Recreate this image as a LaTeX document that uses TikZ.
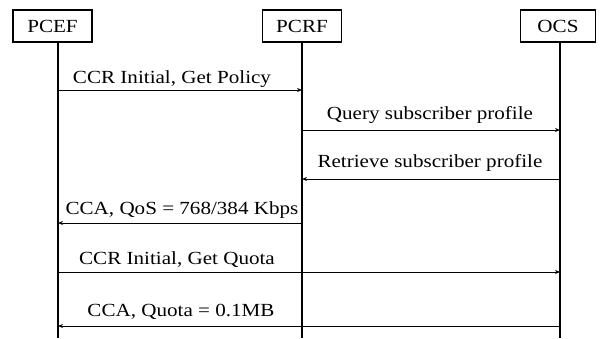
\documentclass[tikz,border=0pt]{standalone}
\usepackage{fontspec}
\setmainfont{Liberation Serif}[FakeStretch=1.14]
\usetikzlibrary{arrows.meta}
\begin{document}
\begin{tikzpicture}[x=1pt,y=-1pt,
  entity/.style={draw,line width=1.3pt,minimum width=79pt,minimum height=32pt,inner sep=0pt,font=\fontsize{18.5}{20}\selectfont},
  lifeline/.style={line width=2pt},
  msg/.style={line width=0.9pt,-{Stealth[length=5pt,width=4pt]}},
  msglabel/.style={inner sep=0pt,font=\fontsize{18.5}{20}\selectfont}]
\useasboundingbox[fill=white] (0,0) rectangle (600,338);
\node[entity] (pcef) at (52.5,26) {PCEF};
\node[entity] (pcrf) at (302,26) {PCRF};
\node[entity,minimum width=75pt] (ocs) at (558,26) {OCS};
\coordinate (pcefend) at (58,338);
\coordinate (pcrfend) at (302,338);
\coordinate (ocsend) at (560,338);
\draw[lifeline] (58,42) -- (pcefend);
\draw[lifeline] (pcrf.south) -- (pcrfend);
\draw[lifeline] (560,42) -- (ocsend);
% message endpoints
\coordinate (a1) at (58,90);  \coordinate (b1) at (302,90);
\coordinate (a2) at (302,130); \coordinate (b2) at (560,130);
\coordinate (a3) at (560,179); \coordinate (b3) at (302,179);
\coordinate (a4) at (302,223); \coordinate (b4) at (58,223);
\coordinate (a5) at (58,272);  \coordinate (b5) at (560,272);
\coordinate (a6) at (560,326); \coordinate (b6) at (58,326);
\draw[msg] (a1) -- (b1);
\draw[msg] (a2) -- (b2);
\draw[msg] (a3) -- (b3);
\draw[msg] (a4) -- (b4);
\draw[msg] (a5) -- (b5);
\draw[msg] (a6) -- (b6);
\node[msglabel] (l1) at (172,79) {CCR Initial, Get Policy};
\node[msglabel] (l2) at (430,115) {Query subscriber profile};
\node[msglabel] (l3) at (430,163) {Retrieve subscriber profile};
\node[msglabel] (l4) at (182,210) {CCA, QoS = 768/384 Kbps};
\node[msglabel] (l5) at (177,260) {CCR Initial, Get Quota};
\node[msglabel] (l6) at (181,312) {CCA, Quota = 0.1MB};
\end{tikzpicture}
\end{document}
